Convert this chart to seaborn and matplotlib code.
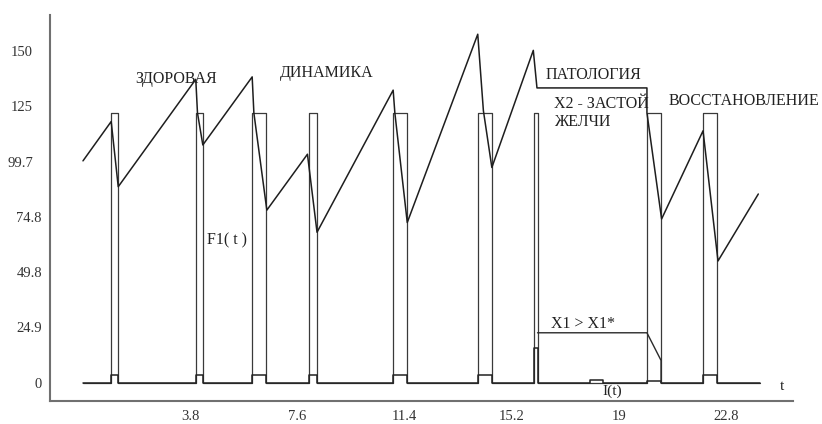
import matplotlib
matplotlib.use("Agg")
import matplotlib.pyplot as plt
import matplotlib.transforms as mtransforms
import pandas as pd
import seaborn as sns

# Feeding pulses F1(t): start / end times and common amplitude
pulse_start = [1.0, 4.0, 6.0, 8.0, 11.0, 14.0, 16.0, 20.0, 22.0]
pulse_end = [1.25, 4.25, 6.5, 8.3, 11.5, 14.5, 16.12, 20.5, 22.5]
pulse_height = 122.0

# Bile outflow I(t): small bumps inside each pulse, plus a step during stagnation
flow_height = [3.5, 3.5, 3.5, 3.5, 3.5, 3.5, 15.5, 0.8, 3.5]
stag_start = [17.98]
stag_end = [18.45]
stag_height = [1.0]

# Sawtooth accumulation curve
saw_t = [0.0, 1.0, 1.25, 4.0, 4.06, 4.25, 6.0, 6.06, 6.52, 7.96, 8.3,
         11.0, 11.06, 11.5, 14.0, 14.2, 14.5, 15.97, 16.1, 20.0, 20.0,
         20.52, 21.99, 22.52, 23.95]
saw_v = [100.3, 118.1, 88.6, 137.2, 122.0, 107.5, 138.3, 122.0, 78.0,
         103.3, 68.0, 132.3, 122.0, 72.4, 157.6, 123.0, 97.3, 150.3,
         133.3, 133.3, 122.0, 74.0, 113.9, 55.0, 85.3]

# Threshold track X1 > X1*
thr_t = [16.12, 20.0, 20.5, 20.5]
thr_v = [22.5, 22.5, 10.0, 0.0]

t_end = 24.0

x_ticks = [3.8, 7.6, 11.4, 15.2, 19, 22.8]
x_tick_labels = ["3.8", "7.6", "11.4", "15.2", "19", "22.8"]
y_ticks = [0, 24.9, 49.8, 74.8, 99.7, 125, 150]
y_tick_labels = ["0", "24.9", "49.8", "74.8", "99.7", "125", "150"]


def step_track(starts, ends, heights, t0=0.0, t1=t_end):
    """Build a rectangular-pulse track from interval lists."""
    ts, vs = [t0], [0.0]
    for s, e, h in sorted(zip(starts, ends, heights)):
        ts += [s, s, e, e]
        vs += [0.0, h, h, 0.0]
    ts.append(t1)
    vs.append(0.0)
    return pd.DataFrame({"t": ts, "v": vs})


f1_df = step_track(pulse_start, pulse_end, [pulse_height] * len(pulse_start))
flow_df = step_track(pulse_start + stag_start, pulse_end + stag_end,
                     flow_height + stag_height)
saw_df = pd.DataFrame({"t": saw_t, "v": saw_v})
thr_df = pd.DataFrame({"t": thr_t, "v": thr_v})

sns.set_theme(style="white")
plt.rcParams["font.family"] = ["Liberation Serif", "DejaVu Serif"]

fig = plt.figure(figsize=(8.22, 4.24), dpi=100)
ax = fig.add_axes([50 / 822, 1 - 401 / 424, 743 / 822, 386 / 424])

line_kw = dict(estimator=None, sort=False, ax=ax, legend=False)
sns.lineplot(data=f1_df, x="t", y="v", color="#3a3a3a", linewidth=0.9, **line_kw)
sns.lineplot(data=flow_df, x="t", y="v", color="#222222", linewidth=1.1, **line_kw)
sns.lineplot(data=saw_df, x="t", y="v", color="#1e1e1e", linewidth=1.1, **line_kw)
sns.lineplot(data=thr_df, x="t", y="v", color="#2a2a2a", linewidth=1.0, **line_kw)

ax.set_xlim(-1.17, 25.18)
ax.set_ylim(-8.37, 166.3)
ax.set_xlabel("")
ax.set_ylabel("")

ax.set_xticks(x_ticks, x_tick_labels)
ax.set_yticks(y_ticks, y_tick_labels)
ax.tick_params(axis="both", length=0, labelsize=10.5, colors="#333333")
ax.tick_params(axis="x", pad=6.5)
ax.tick_params(axis="y", pad=5.8)

for side in ("top", "right"):
    ax.spines[side].set_visible(False)
for side in ("left", "bottom"):
    ax.spines[side].set_color("#707070")
    ax.spines[side].set_linewidth(1.5)

# Upper tick labels sit a little further from the axis
shift = mtransforms.ScaledTranslation(-9 / 100, 0, fig.dpi_scale_trans)
for lab in ax.get_yticklabels():
    if lab.get_text() in ("99.7", "125", "150"):
        lab.set_transform(lab.get_transform() + shift)

txt_kw = dict(fontsize=11.5, color="#222222", ha="left", va="baseline")
ax.text(1.85, 135.5, "ЗДОРОВАЯ", **txt_kw)
ax.text(7.0, 138.2, "ДИНАМИКА", **txt_kw)
ax.text(16.4, 137.3, "ПАТОЛОГИЯ", **txt_kw)
ax.text(16.7, 124.2, "X2 - ЗАСТОЙ", **txt_kw)
ax.text(16.7, 116.0, "ЖЕЛЧИ", **txt_kw)
ax.text(20.78, 125.8, "ВОССТАНОВЛЕНИЕ", **txt_kw)
ax.text(4.39, 62.7, "F1( t )", **txt_kw)
ax.text(16.58, 24.7, "X1 > X1*", **txt_kw)
ax.text(18.42, -1.1, "I(t)", fontsize=11, color="#222222", ha="left", va="top")
ax.text(24.7, -3.4, "t", fontsize=11, color="#222222", ha="left", va="baseline")

fig.savefig("out.png", dpi=100)
